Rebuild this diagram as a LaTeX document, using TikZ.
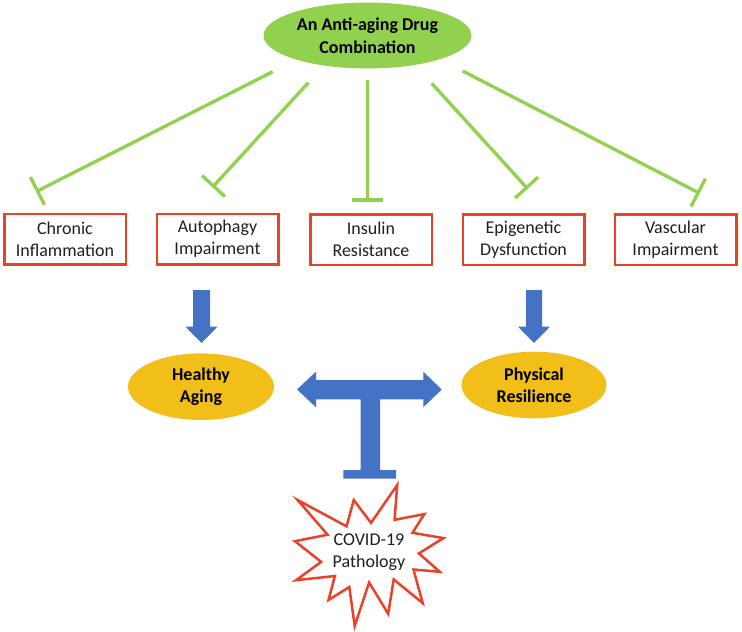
\documentclass[tikz,border=0pt]{standalone}
\usepackage{fontspec}
\setmainfont{Carlito}
\usetikzlibrary{arrows.meta,shapes.geometric}
\definecolor{lgreen}{RGB}{146,208,80}
\definecolor{dblue}{RGB}{68,114,196}
\definecolor{gold}{RGB}{242,190,26}
\definecolor{bred}{RGB}{232,66,40}
\begin{document}
\begin{tikzpicture}[x=1pt,y=-1pt,
  txt/.style={font=\fontsize{18}{21.7}\selectfont, align=center, text=black!88},
  btxt/.style={font=\bfseries\fontsize{18}{22.5}\selectfont, align=center, text=black},
  redbox/.style={txt, draw=bred, line width=2.5pt, minimum width=121.5pt, minimum height=50.5pt, inner sep=0pt},
  goldell/.style={btxt, ellipse, fill=gold, inner sep=0pt},
  inh/.style={draw=lgreen, line width=3.3pt, -{Bar[width=31pt,line width=3.3pt]}},
  fatarrow/.style={fill=dblue, draw=none},
  burst/.style={draw=bred, line width=2.5pt, fill=white, line join=miter}
]
\useasboundingbox (0,0) rectangle (742,632);

% top ellipse
\node[btxt, ellipse, fill=lgreen, minimum width=208pt, minimum height=66pt, inner sep=0pt] (drug) at (367.5,35.5) {An Anti-aging Drug\\Combination};

% boxes
\node[redbox] (b1) at (65,239) {Chronic\\Inflammation};
\node[redbox] (b2) at (217.5,239) {Autophagy\\Impairment};
\node[redbox] (b3) at (371,239.5) {Insulin\\Resistance};
\node[redbox] (b4) at (523.5,239.5) {Epigenetic\\Dysfunction};
\node[redbox] (b5) at (675.5,239.5) {Vascular\\Impairment};

% inhibition lines
\coordinate (s1) at (272.7,71.7);  \coordinate (e1) at (36,191.7);
\coordinate (s2) at (308.3,82.7);  \coordinate (e2) at (212.4,187.3);
\coordinate (s3) at (367.7,80);    \coordinate (e3) at (367.7,201.7);
\coordinate (s4) at (431.7,83.3);  \coordinate (e4) at (527.7,188.8);
\coordinate (s5) at (462.7,71);    \coordinate (e5) at (699.7,193.3);
\draw[inh] (s1) -- (e1);
\draw[inh] (s2) -- (e2);
\draw[inh] (s3) -- (e3);
\draw[inh] (s4) -- (e4);
\draw[inh] (s5) -- (e5);

% gold ellipses
\node[goldell, minimum width=146pt, minimum height=66.6pt] (ha) at (201,386.7) {Healthy\\Aging};
\node[goldell, minimum width=145pt, minimum height=66.6pt] (pr) at (534,385) {Physical\\Resilience};

% down arrows
\fill[fatarrow] (193,290) -- (210,290) -- (210,326.7) -- (217.5,326.7) -- (201.5,343) -- (185.5,326.7) -- (193,326.7) -- cycle;
\fill[fatarrow] (526,290) -- (542,290) -- (542,326.7) -- (550,326.7) -- (534,343) -- (518,326.7) -- (526,326.7) -- cycle;

% double arrow with T
\fill[fatarrow] (297,389.5) -- (316,371.7) -- (316,380) -- (423.3,380) -- (423.3,371.7) -- (441.7,389.5)
  -- (423.3,407.3) -- (423.3,399.3) -- (380,399.3) -- (380,470) -- (396,470) -- (396,478.7)
  -- (343.3,478.7) -- (343.3,470) -- (360.7,470) -- (360.7,399.3) -- (316,399.3) -- (316,407.3) -- cycle;

% explosion
\draw[burst] (371,522.9) -- (397.2,485) -- (394.6,519.8) -- (424.3,514.1) -- (412.5,532.8) -- (443.5,538.1)
  -- (418.9,553.4) -- (439.8,571.8) -- (413.5,569.5) -- (422.7,603.1) -- (393.7,579.4) -- (388.2,613.8)
  -- (369.1,582.5) -- (354.7,626) -- (349.3,587) -- (328.5,600) -- (334.9,576) -- (296,580.2)
  -- (321.2,561.9) -- (295,541.2) -- (327.6,534.7) -- (297.6,500) -- (346.5,526.3) -- (353.8,500) -- cycle;
\node[txt] (covid) at (369,552.4) {COVID-19\\Pathology};
\end{tikzpicture}
\end{document}
